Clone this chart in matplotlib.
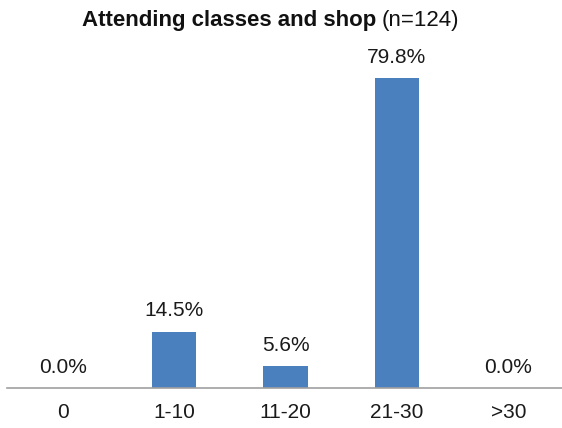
import matplotlib
matplotlib.use("Agg")
import matplotlib.pyplot as plt

categories = ["0", "1-10", "11-20", "21-30", ">30"]
percents = [0.0, 14.5, 5.6, 79.8, 0.0]

plt.rcParams['font.family'] = ['Liberation Sans', 'DejaVu Sans']

fig = plt.figure(figsize=(5.62, 4.28), dpi=100)
ax = fig.add_axes([7 / 562, 40 / 428, 557 / 562, 349.7 / 428])

x = list(range(len(categories)))
bars = ax.bar(x, percents, width=0.395, color='#4a80bd', zorder=2)

for xi, v in zip(x, percents):
    ax.annotate(f"{v:.1f}%", (xi, v), xytext=(0, 11), textcoords='offset points',
                ha='center', va='baseline', fontsize=15, color='#1a1a1a')

ax.set_xlim(-0.5, 4.5)
ax.set_ylim(0, 90)
ax.set_xticks(x)
ax.set_xticklabels(categories, fontsize=15, color='#1a1a1a')
ax.tick_params(axis='x', length=0, pad=11)
ax.set_yticks([])
for side in ['top', 'right', 'left']:
    ax.spines[side].set_visible(False)
ax.spines['bottom'].set_color('#a0a0a0')
ax.spines['bottom'].set_linewidth(1.2)
ax.patch.set_alpha(0)

ty = (428 - 26) / 428
fig.text(376 / 562, ty, "Attending classes and shop", ha='right', va='baseline',
         fontsize=16, fontweight='bold', color='#111111')
fig.text(382 / 562, ty, "(n=124)", ha='left', va='baseline',
         fontsize=16, color='#111111')

fig.savefig("out.png", dpi=100)
